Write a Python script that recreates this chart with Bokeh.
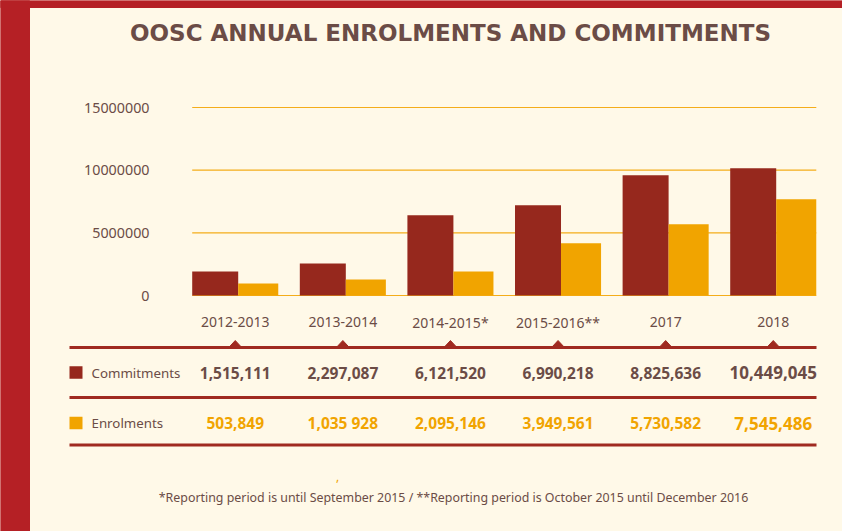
import numpy as np
from bokeh.plotting import figure
from bokeh.models import Range1d
from bokeh.embed import file_html
from bokeh.resources import INLINE
from bokeh.core.properties import value

# ---------------- data ----------------
title_text = "OOSC ANNUAL ENROLMENTS AND COMMITMENTS"
categories = ["2012-2013", "2013-2014", "2014-2015*", "2015-2016**", "2017", "2018"]
commitments_bar = [1920000, 2560000, 6400000, 7200000, 9600000, 10160000]
enrolments_bar = [960000, 1280000, 1920000, 4160000, 5680000, 7680000]
commitments_text = ["1,515,111", "2,297,087", "6,121,520", "6,990,218", "8,825,636", "10,449,045"]
enrolments_text = ["503,849", "1,035 928", "2,095,146", "3,949,561", "5,730,582", "7,545,486"]
y_ticks = [0, 5000000, 10000000, 15000000]
y_tick_labels = ["0", "5000000", "10000000", "15000000"]
series_names = ["Commitments", "Enrolments"]
footnote = "*Reporting period is until September 2015 / **Reporting period is October 2015 until December 2016"

# ---------------- styles ----------------
CREAM = "#fff9e8"
RED_BORDER = "#b52025"
DARKRED = "#96281d"
ORANGE = "#f1a400"
GRID = "#f4ad1a"
LINE = "#a02a20"
TEXT = "#6b4c46"
FONT = value("Noto Sans")

W, H = 842, 531
PX0, PY0 = 0, 0            # page offset of the figure
SP, C0 = 107.6, 234.75     # group spacing / first group centre (page px)
Y0, K = 295.0, 188.0 / 15e6  # zero baseline (page px) and px per unit

idx = np.arange(len(categories))

p = figure(width=W, height=H,
           x_range=Range1d((PX0 - C0) / SP, (PX0 + W - C0) / SP),
           y_range=Range1d((Y0 - (PY0 + H)) / K, (Y0 - PY0) / K),
           output_backend="svg", toolbar_location=None, min_border=0,
           x_axis_type=None, y_axis_type=None,
           background_fill_color=CREAM, border_fill_color=CREAM,
           outline_line_color=None)
p.grid.visible = False
p.extra_x_ranges = {"px": Range1d(PX0, PX0 + W)}
p.extra_y_ranges = {"py": Range1d(PY0 + H, PY0)}
PXR = dict(x_range_name="px", y_range_name="py")

# red frame strips (left and top)
p.quad(left=PX0, right=29, top=PY0, bottom=PY0 + H, color=RED_BORDER, **PXR)
p.quad(left=PX0, right=PX0 + W, top=PY0, bottom=7, color=RED_BORDER, **PXR)

# title
p.text(x=450, y=32, text=[title_text], text_align="center", text_baseline="middle",
       text_font=value("DejaVu Sans"), text_font_style="bold", text_font_size="23px",
       text_color=TEXT, **PXR)

# gridlines
p.segment(x0=-0.4, x1=len(categories) - 1 + 0.4, y0=y_ticks, y1=y_ticks,
          line_color=GRID, line_width=1.2)

# y tick labels
p.text(x=149, y=y_ticks, text=y_tick_labels, x_range_name="px",
       text_align="right", text_baseline="middle", text_font=FONT,
       text_font_size="14.3px", text_color=TEXT)

# bars
p.vbar(x=idx - 0.18625, width=0.4275, top=commitments_bar, bottom=0,
       fill_color=DARKRED, line_color=None)
p.vbar(x=idx + 0.2135, width=0.3725, top=enrolments_bar, bottom=0,
       fill_color=ORANGE, line_color=None)

# category labels
p.text(x=idx, y=321.5, y_range_name="py", text=categories, text_align="center",
       text_baseline="middle", text_font=FONT, text_font_size="14px", text_color=TEXT)

# table lines
for yy in (347, 397, 444.5):
    p.segment(x0=69, x1=816, y0=yy, y1=yy, line_color=LINE, line_width=3, **PXR)

# small triangle markers on top line
dx = 6.5 / SP
p.patches(xs=[[i - dx, i, i + dx] for i in idx],
          ys=[[347, 340, 347] for _ in idx],
          y_range_name="py", fill_color=LINE, line_color=LINE)

# rows
rows = [(372, DARKRED, TEXT, commitments_text, series_names[0]),
        (422.5, ORANGE, ORANGE, enrolments_text, series_names[1])]
for yy, swatch, tcol, texts, name in rows:
    p.rect(x=75.5, y=yy, width=13, height=12.5, fill_color=swatch, line_color=None, **PXR)
    p.text(x=91, y=yy, text=[name], text_align="left", text_baseline="middle",
           text_font=FONT, text_font_size="13.3px", text_color=TEXT, **PXR)
    sizes = ["15.5px"] * (len(texts) - 1) + ["17px"]
    p.text(x=idx, y=[yy] * len(texts), text=texts, y_range_name="py",
           text_align="center", text_baseline="middle", text_font=FONT,
           text_font_style="bold", text_font_size=sizes, text_color=tcol)

# stray orange mark and footnote
p.text(x=337, y=476, text=[","], text_align="center", text_baseline="middle",
       text_font=FONT, text_font_size="12px", text_color=ORANGE, **PXR)
p.text(x=453, y=497, text=[footnote], text_align="center", text_baseline="middle",
       text_font=FONT, text_font_size="12.4px", text_color=TEXT, **PXR)

open("out.html", "w").write(file_html(p, INLINE))
